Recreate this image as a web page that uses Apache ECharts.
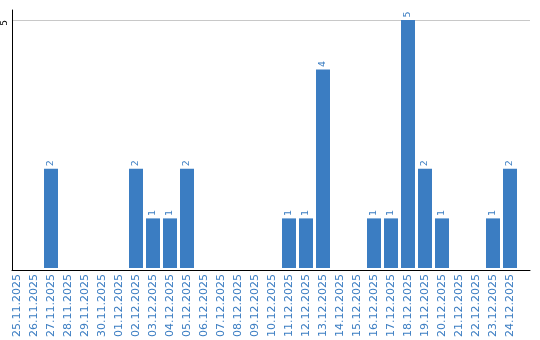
<!DOCTYPE html>
<html><head><meta charset="utf-8">
<script src="https://cdn.jsdelivr.net/npm/echarts@6/dist/echarts.min.js"></script>
<style>html,body{margin:0;padding:0;background:#fff}#c{width:540px;height:340px}</style>
</head><body><div id="c"></div>
<script>
const dates = ['25.11.2025','26.11.2025','27.11.2025','28.11.2025','29.11.2025','30.11.2025','01.12.2025','02.12.2025','03.12.2025','04.12.2025','05.12.2025','06.12.2025','07.12.2025','08.12.2025','09.12.2025','10.12.2025','11.12.2025','12.12.2025','13.12.2025','14.12.2025','15.12.2025','16.12.2025','17.12.2025','18.12.2025','19.12.2025','20.12.2025','21.12.2025','22.12.2025','23.12.2025','24.12.2025'];
const counts = [0,0,2,0,0,0,0,2,1,1,2,0,0,0,0,0,1,1,4,0,0,1,1,5,2,1,0,0,1,2];
const yTicks = [0,5];
const yMax = 5.2;

const blue = '#3b7dc2';
const font = 'DejaVu Sans';
const chart = echarts.init(document.getElementById('c'), null, {renderer:'canvas'});
chart.setOption({
  animation:false,
  grid:[
    {left:8.5, top:10, width:510, height:260},
    {left:10, top:10, width:520, height:260}
  ],
  xAxis:[
    {type:'category', gridIndex:0, data:dates,
     axisLine:{show:false}, axisTick:{show:false},
     axisLabel:{rotate:90, interval:0, color:blue, fontFamily:font, fontSize:11, margin:6}},
    {type:'value', gridIndex:1, min:0, max:1,
     axisLine:{show:true, onZero:false, lineStyle:{color:'#000', width:1}},
     axisTick:{show:false}, axisLabel:{show:false}, splitLine:{show:false}}
  ],
  yAxis:[
    {type:'value', gridIndex:0, min:0, max:yMax, show:false},
    {type:'value', gridIndex:1, min:0, max:yMax, interval:5,
     axisLine:{show:true, lineStyle:{color:'#000', width:1}},
     axisTick:{show:false},
     axisLabel:{rotate:90, margin:3, fontFamily:font, fontSize:9, color:'#000', align:'right',
       formatter:v=> (yTicks.indexOf(v)>0 ? String(v) : '')},
     splitLine:{show:true, lineStyle:{color:['#c8c8c8','#c8c8c8','rgba(0,0,0,0)'], width:1}}}
  ],
  series:[{
    type:'bar', xAxisIndex:0, yAxisIndex:0,
    data:counts, barWidth:14,
    itemStyle:{color:blue},
    label:{show:true, position:'top', rotate:90, distance:2.5, align:'left', verticalAlign:'middle',
      color:blue, fontFamily:font, fontSize:9.5,
      formatter:p=> p.value ? String(p.value) : ''}
  }]
});
</script></body></html>
